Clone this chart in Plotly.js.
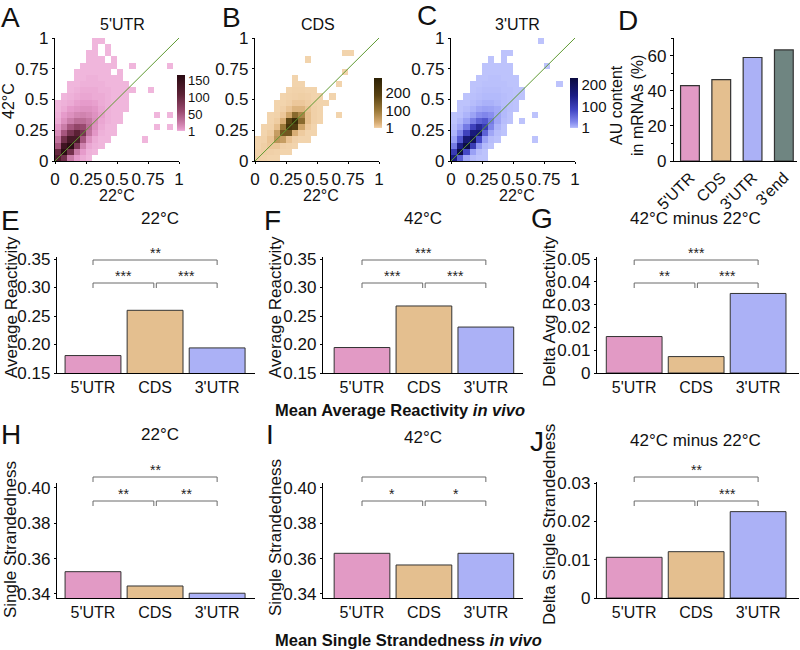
<!DOCTYPE html>
<html>
<head>
<meta charset="utf-8">
<script src="https://cdn.plot.ly/plotly-3.0.1.min.js"></script>
<style>
  html, body { margin: 0; padding: 0; background: #fff; }
  #chart { width: 800px; height: 650px; }
</style>
</head>
<body>
<div id="chart"></div>
<script>
// ---- data ----
const regions = ["5'UTR", "CDS", "3'UTR"];
const auRegions = ["5'UTR", "CDS", "3'UTR", "3'end"];
const auContent = [42.9, 46.3, 58.9, 63.2];

const react22 = [0.1806, 0.260, 0.194];
const react42 = [0.1947, 0.2676, 0.2306];
const reactDelta = [0.0160, 0.0072, 0.0349];

const ss22 = [0.3526, 0.3445, 0.3404];
const ss42 = [0.3630, 0.3564, 0.3630];
const ssDelta = [0.01063, 0.0121, 0.02256];

// 0.05-wide bins, 22°C on x, 42°C on y
const binCenters = [0.025, 0.075, 0.125, 0.175, 0.225, 0.275, 0.325, 0.375, 0.425, 0.475,
  0.525, 0.575, 0.625, 0.675, 0.725, 0.775, 0.825, 0.875, 0.925, 0.975];

// counts per cell, one row per 42°C bin (bottom row first)
const density5utr = [
  [120, 90, 25, 6, 3, 1],
  [100, 160, 90, 25, 6, 2, 1],
  [50, 140, 160, 80, 20, 4, 2, 1],
  [30, 90, 130, 130, 50, 12, 3, 1, 1, 0, 0, 0, 0, 0, 1],
  [15, 50, 85, 110, 85, 30, 8, 2, 1, 1],
  [8, 25, 50, 65, 60, 35, 12, 3, 1, 1, 0, 0, 0, 0, 0, 0, 1, 0, 1],
  [3, 12, 24, 35, 35, 28, 14, 4, 2, 1, 1],
  [2, 6, 12, 18, 20, 17, 11, 5, 2, 1, 1, 0, 0, 0, 0, 0, 1, 0, 1],
  [1, 3, 6, 9, 11, 11, 8, 4, 2, 1, 1, 1],
  [1, 2, 3, 5, 6, 6, 5, 3, 2, 1, 1, 1],
  [0, 1, 2, 3, 4, 4, 3, 3, 2, 1, 1, 1],
  [0, 0, 1, 2, 3, 3, 3, 2, 2, 1, 1, 1, 1, 0, 0, 1],
  [0, 0, 1, 1, 2, 2, 2, 2, 1, 1, 1, 1],
  [0, 0, 0, 1, 1, 2, 2, 1, 1, 1, 1],
  [0, 0, 0, 1, 1, 1, 1, 1, 1, 0, 1],
  [0, 0, 0, 0, 1, 1, 1, 1, 1, 1, 0, 0, 1, 0, 0, 0, 0, 0, 1],
  [0, 0, 0, 0, 0, 1, 1, 1, 0, 1],
  [0, 0, 0, 0, 0, 1, 1, 0, 1],
  [0, 0, 0, 0, 0, 0, 1, 0, 1],
  [0, 0, 0, 0, 0, 0, 1, 1],
];

const densityCds = [
  [3, 2, 1, 1],
  [2, 4, 3, 2, 1, 1],
  [1, 4, 8, 8, 3, 2, 1],
  [1, 2, 10, 60, 50, 12, 3, 1, 1],
  [0, 1, 5, 50, 150, 150, 30, 6, 1, 1],
  [0, 1, 2, 15, 100, 220, 200, 40, 6, 1],
  [0, 0, 1, 5, 30, 180, 250, 120, 15, 3, 1],
  [0, 0, 1, 2, 8, 40, 120, 80, 15, 3, 1, 0, 0, 1],
  [0, 0, 0, 1, 3, 10, 25, 25, 10, 3, 1],
  [0, 0, 0, 1, 1, 3, 8, 8, 5, 2, 1, 1],
  [0, 0, 0, 0, 1, 2, 3, 4, 3, 1, 1, 0, 1],
  [0, 0, 0, 0, 0, 1, 2, 2, 1, 1],
  [0, 0, 0, 0, 0, 0, 1, 1, 0, 0, 0, 0, 0, 1],
  [0, 0, 0, 0, 0, 0, 1],
  [0, 0, 0, 0, 0, 0, 0, 0, 0, 0, 0, 0, 0, 0, 1],
  [],
  [0, 0, 0, 0, 0, 0, 0, 0, 1],
  [0, 0, 0, 0, 0, 0, 0, 0, 0, 0, 0, 0, 0, 0, 1, 1],
  [],
  [],
];

const density3utr = [
  [150, 60, 10, 3, 1, 1],
  [100, 220, 80, 15, 3, 1],
  [40, 150, 220, 100, 20, 4, 1],
  [15, 70, 170, 200, 80, 15, 3, 1, 0, 0, 0, 0, 0, 1],
  [6, 30, 90, 160, 170, 60, 12, 3, 1],
  [3, 12, 40, 90, 130, 100, 30, 6, 1],
  [1, 5, 15, 35, 60, 70, 40, 12, 3, 1, 0, 1],
  [1, 2, 6, 14, 25, 30, 25, 12, 4, 1, 0, 0, 0, 1],
  [0, 1, 3, 6, 12, 15, 14, 10, 4, 2, 1],
  [0, 1, 1, 3, 5, 7, 7, 5, 3, 2, 1],
  [0, 0, 1, 2, 3, 4, 4, 4, 3, 2, 1, 1],
  [0, 0, 0, 1, 2, 3, 3, 3, 2, 2, 1, 1],
  [0, 0, 0, 1, 1, 2, 2, 2, 2, 1, 1, 0, 0, 0, 0, 0, 0, 1],
  [0, 0, 0, 0, 1, 1, 2, 2, 1, 1, 1],
  [0, 0, 0, 0, 0, 1, 1, 1, 1, 1],
  [0, 0, 0, 0, 0, 1, 1, 1, 1, 1, 0, 0, 0, 0, 0, 1],
  [0, 0, 0, 0, 0, 0, 1, 0, 1],
  [0, 0, 0, 0, 0, 0, 0, 0, 1, 1],
  [],
  [0, 0, 0, 0, 0, 0, 0, 0, 0, 0, 0, 0, 0, 0, 1],
];

const diagonal = [0, 1];

// ---- styling ----
const FONT = "Liberation Sans, Arial, sans-serif";
const regionColors = ["#e29ac5", "#e4bf8f", "#abb1f6"];
const auColors = ["#e29ac5", "#e4bf8f", "#abb1f6", "#6f8581"];
const W = 800, H = 650;

const xd = (a, b) => [a / W, b / W];
const yd = (top, bottom) => [1 - bottom / H, 1 - top / H];
const px = (v) => v / W;
const py = (v) => 1 - v / H;

function toGrid(rows) {
  return rows.map((row) => binCenters.map((_, i) => (row[i] ? row[i] : null)));
}

const traces = [];
const shapes = [];
const annotations = [];

function text(t, x, y, size, extra) {
  annotations.push(Object.assign({
    text: t, x: px(x), y: py(y), xref: "paper", yref: "paper",
    showarrow: false, xanchor: "center", yanchor: "middle",
    font: { family: FONT, size: size, color: "#111" },
  }, extra || {}));
}

const baseAxis = {
  showline: true, linecolor: "#000", linewidth: 1.2, mirror: false,
  zeroline: false, showgrid: false, fixedrange: true,
  tickfont: { family: FONT, size: 17, color: "#111" },
  tickcolor: "#000",
};

const layout = {
  width: W, height: H,
  margin: { l: 0, r: 0, t: 0, b: 0 },
  paper_bgcolor: "#fff", plot_bgcolor: "rgba(0,0,0,0)",
  showlegend: false,
  font: { family: FONT, color: "#111" },
  shapes: shapes,
  annotations: annotations,
};

// ---- A, B, C: density panels ----
const densityPanels = [
  { id: "", rows: density5utr, box: [55, 179], zmax: 165, ticks: [1, 50, 100, 150], cb: 177, cbLen: 56, cbFont: 13,
    scale: [[0, "#f0b6dc"], [0.03, "#e69bcb"], [0.12, "#cf82ae"], [0.35, "#9a4a70"], [0.65, "#5c2236"], [1, "#2a0a12"]] },
  { id: "2", rows: densityCds, box: [255, 379], zmax: 280, ticks: [1, 100, 200], cb: 374, cbLen: 50, cbFont: 15,
    scale: [[0, "#f2d4ad"], [0.03, "#ebc596"], [0.12, "#d4a96f"], [0.35, "#9a7838"], [0.65, "#584212"], [1, "#2c2105"]] },
  { id: "3", rows: density3utr, box: [451, 575], zmax: 230, ticks: [1, 100, 200], cb: 570, cbLen: 50, cbFont: 15,
    scale: [[0, "#bdc3fc"], [0.03, "#a7aef9"], [0.12, "#8288ec"], [0.35, "#4448c6"], [0.65, "#1b1c84"], [1, "#0b0b40"]] },
];

densityPanels.forEach((p) => {
  const xa = "x" + p.id, ya = "y" + p.id;
  traces.push({
    type: "heatmap", x: binCenters, y: binCenters, z: toGrid(p.rows),
    xaxis: xa, yaxis: ya, zmin: 1, zmax: p.zmax, colorscale: p.scale,
    hoverinfo: "skip",
    colorbar: {
      x: px(p.cb), xanchor: "left", xpad: 0, ypad: 0,
      y: py(103), yanchor: "middle", len: p.cbLen / H, lenmode: "fraction",
      thickness: 8, outlinewidth: 0, ticks: "", tickvals: p.ticks,
      tickfont: { family: FONT, size: p.cbFont, color: "#111" },
    },
  });
  traces.push({
    type: "scatter", mode: "lines", x: diagonal, y: diagonal,
    xaxis: xa, yaxis: ya, line: { color: "#5f9a32", width: 1 }, hoverinfo: "skip",
  });
  const tick = { tickvals: [0, 0.25, 0.5, 0.75, 1], ticktext: ["0", "0.25", "0.5", "0.75", "1"],
    ticks: "outside", ticklen: 2, range: [0, 1] };
  layout["xaxis" + p.id] = Object.assign({}, baseAxis, tick, { domain: xd(p.box[0], p.box[1]), anchor: ya });
  layout["yaxis" + p.id] = Object.assign({}, baseAxis, tick, { domain: yd(38, 161), anchor: xa });
});

// ---- D: AU content ----
traces.push({
  type: "bar", x: auRegions, y: auContent, xaxis: "x4", yaxis: "y4", width: 0.6,
  marker: { color: auColors, line: { color: "#333", width: 1.2 } }, hoverinfo: "skip",
});
layout.xaxis4 = Object.assign({}, baseAxis, {
  domain: xd(674, 797), anchor: "y4", range: [-0.51, 3.42], ticks: "", tickangle: -45,
  tickfont: { family: FONT, size: 16, color: "#111" },
});
layout.yaxis4 = Object.assign({}, baseAxis, {
  domain: yd(38, 161), anchor: "x4", range: [0, 70], tickvals: [0, 20, 40, 60],
  ticks: "outside", ticklen: 3,
  minor: { dtick: 10, ticks: "outside", ticklen: 2, tickcolor: "#000" },
});

// ---- E-J: bar panels ----
const barPanels = [
  { n: 5, vals: react22, box: [57, 255], top: 257, bottom: 373, range: [0.15, 0.3535], x: [-0.58, 2.61],
    fmt: ".2f", dtick: 0.05, stars: ["**", "***", "***"], brk: [260, 283] },
  { n: 6, vals: react42, box: [323, 523], top: 257, bottom: 373, range: [0.15, 0.3535], x: [-0.63, 2.6],
    fmt: ".2f", dtick: 0.05, stars: ["***", "***", "***"], brk: [260, 283] },
  { n: 7, vals: reactDelta, box: [597, 799], top: 257, bottom: 373, range: [0, 0.0509], x: [-0.6, 2.66],
    fmt: "", dtick: 0.01, stars: ["***", "**", "***"], brk: [260, 283] },
  { n: 8, vals: ss22, box: [57, 255], top: 483, bottom: 598, range: [0.3377, 0.4028], x: [-0.58, 2.61],
    fmt: ".2f", dtick: 0.02, stars: ["**", "**", "**"], brk: [477, 501] },
  { n: 9, vals: ss42, box: [323, 523], top: 483, bottom: 598, range: [0.3377, 0.4028], x: [-0.63, 2.6],
    fmt: ".2f", dtick: 0.02, stars: ["", "*", "*"], brk: [477, 501] },
  { n: 10, vals: ssDelta, box: [597, 799], top: 482, bottom: 598, range: [0, 0.0303], x: [-0.6, 2.66],
    fmt: "", dtick: 0.01, stars: ["**", "", "***"], brk: [477, 501] },
];

function bracket(xa, x0, x1, yPx) {
  shapes.push({
    type: "path", xref: xa, yref: "paper",
    path: `M ${x0},${py(yPx + 5)} L ${x0},${py(yPx)} L ${x1},${py(yPx)} L ${x1},${py(yPx + 5)}`,
    line: { color: "#6a6a6a", width: 1 },
  });
}

function stars(xa, xc, yPx, s) {
  if (!s) return;
  annotations.push({
    text: s, x: xc, y: py(yPx - 7), xref: xa, yref: "paper", showarrow: false,
    xanchor: "center", yanchor: "middle",
    font: { family: FONT, size: 14, color: "#222" },
  });
}

barPanels.forEach((p) => {
  const xa = "x" + p.n, ya = "y" + p.n;
  traces.push({
    type: "bar", x: regions, y: p.vals, xaxis: xa, yaxis: ya, width: 0.9,
    marker: { color: regionColors, line: { color: "#333", width: 1 } }, hoverinfo: "skip",
  });
  layout["xaxis" + p.n] = Object.assign({}, baseAxis, {
    domain: xd(p.box[0], p.box[1]), anchor: ya, range: p.x, ticks: "",
    tickfont: { family: FONT, size: 16, color: "#111" },
  });
  layout["yaxis" + p.n] = Object.assign({}, baseAxis, {
    domain: yd(p.top, p.bottom), anchor: xa, range: p.range, dtick: p.dtick,
    tick0: 0, tickformat: p.fmt, ticks: "outside", ticklen: 2,
  });
  bracket(xa, 0, 2, p.brk[0]);
  bracket(xa, 0, 0.98, p.brk[1]);
  bracket(xa, 1.02, 2, p.brk[1]);
  stars(xa, 1, p.brk[0], p.stars[0]);
  stars(xa, 0.49, p.brk[1], p.stars[1]);
  stars(xa, 1.51, p.brk[1], p.stars[2]);
});

// ---- text ----
const letters = [["A", 10, 18], ["B", 231, 18], ["C", 427, 16], ["D", 628, 20],
  ["E", 10, 220], ["F", 272, 220], ["G", 542, 218], ["H", 11, 435], ["I", 270, 435], ["J", 537, 441]];
letters.forEach(([t, x, y]) => text(t, x, y, 28));

text("5'UTR", 122, 24, 16);
text("CDS", 318, 24, 16);
text("3'UTR", 517, 24, 16);
text("22°C", 117, 195, 16);
text("22°C", 321, 195, 16);
text("22°C", 517, 195, 16);
text("42°C", 9, 101, 16, { textangle: -90 });
text("AU content<br>in mRNAs (%)", 627, 106, 16, { textangle: -90 });

text("22°C", 160, 218, 17);
text("42°C", 423, 218, 17);
text("42°C minus 22°C", 695, 218, 17);
text("22°C", 160, 435, 17);
text("42°C", 423, 437, 17);
text("42°C minus 22°C", 695, 440, 17);

text("Average Reactivity", 11, 307, 17, { textangle: -90 });
text("Average Reactivity", 275, 307, 17, { textangle: -90 });
text("Delta Avg Reactivity", 549, 312, 17, { textangle: -90 });
text("Single Strandedness", 10, 540, 17, { textangle: -90 });
text("Single Strandedness", 275, 538, 17, { textangle: -90 });
text("Delta Single Strandedness", 549, 525, 17, { textangle: -90 });

text("<b>Mean Average Reactivity <i>in vivo</i></b>", 400, 410, 16.5);
text("<b>Mean Single Strandedness <i>in vivo</i></b>", 408, 640, 16.5);

Plotly.newPlot("chart", traces, layout, { staticPlot: true, displayModeBar: false });
</script>
</body>
</html>
